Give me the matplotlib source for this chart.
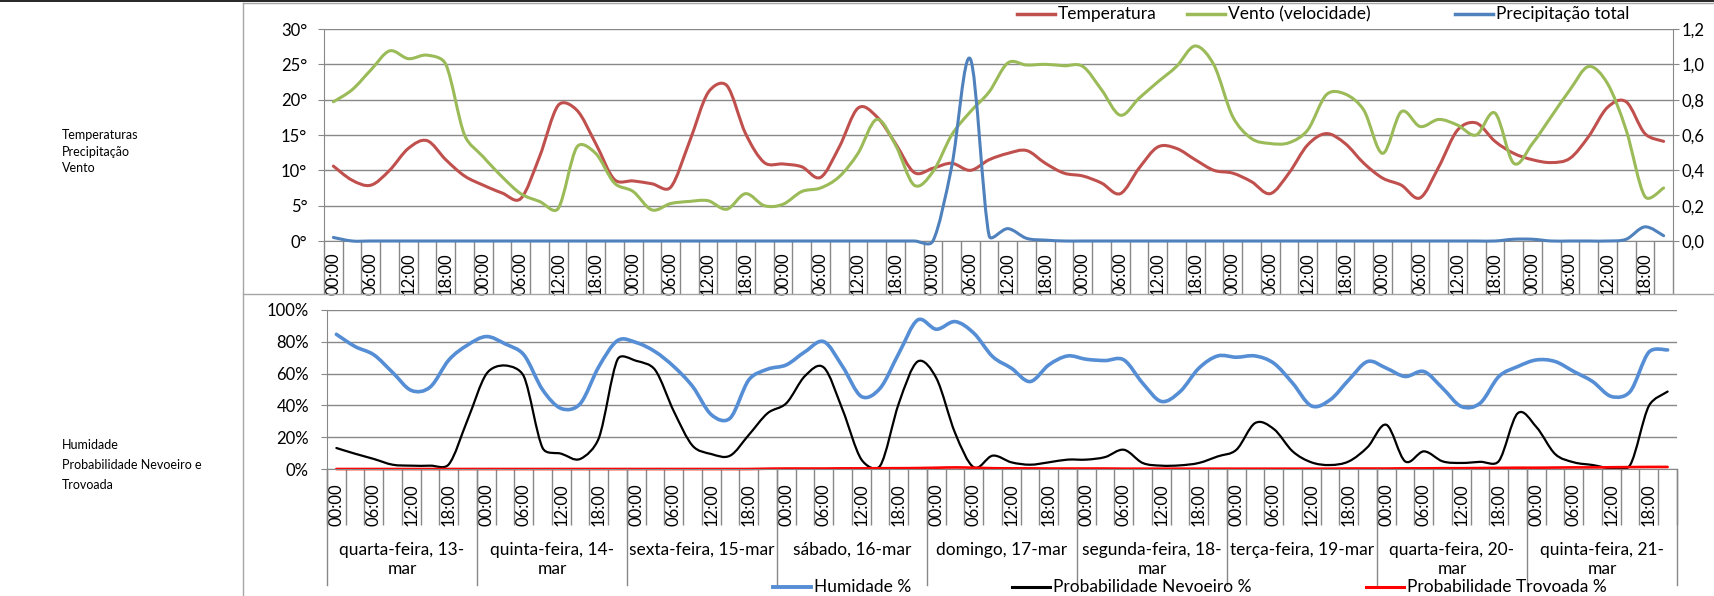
import numpy as np
import matplotlib
matplotlib.use('Agg')
import matplotlib.pyplot as plt
import matplotlib.transforms as mtransforms
from matplotlib.path import Path
from matplotlib.patches import PathPatch
from matplotlib.lines import Line2D

plt.rcParams['font.family'] = ['Lato', 'DejaVu Sans']

# dias e horas (intervalos de 3 horas)
dias = ["quarta-feira, 13-mar", "quinta-feira, 14-mar", "sexta-feira, 15-mar",
        "sábado, 16-mar", "domingo, 17-mar", "segunda-feira, 18-mar",
        "terça-feira, 19-mar", "quarta-feira, 20-mar", "quinta-feira, 21-mar"]
horas = ["00:00", "03:00", "06:00", "09:00", "12:00", "15:00", "18:00", "21:00"]

temperatura = [
    10.6, 8.6, 7.9, 10.0, 13.1, 14.2, 11.5, 9.2,
    7.9, 6.8, 6.0, 11.9, 19.2, 18.5, 13.8, 8.7,
    8.5, 8.1, 7.6, 14.0, 21.0, 22.0, 15.2, 11.1,
    10.9, 10.5, 9.0, 13.3, 18.8, 17.6, 13.8, 9.7,
    10.3, 11.0, 10.0, 11.5, 12.4, 12.8, 11.0, 9.6,
    9.2, 8.2, 6.7, 10.3, 13.3, 13.1, 11.5, 10.0,
    9.6, 8.4, 6.7, 9.6, 13.6, 15.2, 13.8, 11.0,
    8.9, 7.9, 6.1, 10.5, 15.7, 16.7, 14.1, 12.4,
    11.5, 11.1, 11.7, 14.8, 18.9, 19.7, 15.2, 14.1]

vento = [
    19.7, 21.4, 24.2, 26.9, 25.8, 26.3, 25.0, 15.0,
    11.9, 9.1, 6.7, 5.6, 4.6, 13.3, 12.4, 8.2,
    7.0, 4.4, 5.3, 5.6, 5.7, 4.5, 6.7, 5.0,
    5.2, 7.0, 7.5, 9.1, 12.4, 17.2, 13.6, 7.9,
    9.8, 15.0, 18.3, 21.1, 25.2, 24.9, 25.0, 24.8,
    24.7, 21.4, 17.8, 20.2, 22.5, 24.7, 27.6, 24.9,
    17.6, 14.5, 13.8, 13.9, 15.7, 20.7, 20.8, 18.5,
    12.4, 18.3, 16.2, 17.2, 16.4, 15.0, 18.1, 11.0,
    13.8, 17.6, 21.4, 24.7, 22.3, 15.7, 6.3, 7.5]

precipitacao = [
    0.02, 0, 0, 0, 0, 0, 0, 0,
    0, 0, 0, 0, 0, 0, 0, 0,
    0, 0, 0, 0, 0, 0, 0, 0,
    0, 0, 0, 0, 0, 0, 0, 0,
    0, 0.42, 1.03, 0.03, 0.07, 0.015, 0.005, 0,
    0, 0, 0, 0, 0, 0, 0, 0,
    0, 0, 0, 0, 0, 0, 0, 0,
    0, 0, 0, 0, 0, 0, 0, 0.01,
    0.01, 0, 0, 0, 0, 0.01, 0.08, 0.03]

humidade = [
    84.7, 77.0, 71.8, 60.7, 49.4, 51.5, 68.6, 78.0,
    83.3, 78.7, 71.8, 49.8, 38.0, 41.0, 64.4, 80.8,
    79.5, 73.8, 64.4, 51.9, 34.1, 32.0, 56.1, 62.8,
    65.5, 73.8, 80.1, 64.4, 45.6, 50.8, 72.8, 93.7,
    87.9, 92.7, 85.4, 70.7, 63.4, 55.0, 65.5, 71.1,
    69.0, 68.2, 68.6, 54.0, 42.5, 48.7, 63.4, 71.1,
    70.3, 71.1, 66.5, 54.0, 39.7, 43.5, 56.1, 67.6,
    63.4, 58.2, 61.3, 50.8, 39.3, 41.4, 58.2, 64.4,
    68.6, 67.6, 61.3, 55.0, 45.6, 48.7, 73.5, 74.9]

nevoeiro = [
    13.2, 9.6, 6.3, 2.7, 2.1, 2.1, 3.0, 31.0,
    59.8, 65.1, 58.2, 13.2, 9.6, 6.3, 19.5, 69.0,
    68.0, 62.3, 36.2, 14.6, 9.4, 8.4, 21.5, 35.1,
    41.4, 58.6, 63.8, 37.2, 6.0, 2.0, 41.4, 67.6,
    57.1, 22.6, 1.0, 8.4, 4.2, 2.7, 4.2, 5.9,
    5.9, 7.5, 12.1, 3.8, 2.1, 2.3, 3.8, 7.9,
    12.1, 28.9, 25.1, 11.1, 4.2, 2.5, 4.8, 13.8,
    27.8, 4.8, 11.1, 4.8, 3.8, 4.5, 5.0, 35.0,
    26.4, 9.4, 4.2, 2.5, 0.5, 2.5, 39.7, 48.7]

trovoada = [
    0, 0, 0, 0, 0, 0, 0, 0,
    0, 0, 0, 0, 0, 0, 0, 0,
    0, 0, 0, 0, 0, 0, 0, 0.2,
    0.3, 0.3, 0.3, 0.4, 0.4, 0.5, 0.5, 0.6,
    0.8, 1.0, 0.8, 0.5, 0.4, 0.4, 0.3, 0.3,
    0.3, 0.3, 0.2, 0.2, 0.2, 0.2, 0.2, 0.2,
    0.2, 0.2, 0.2, 0.2, 0.2, 0.2, 0.3, 0.3,
    0.3, 0.4, 0.4, 0.5, 0.5, 0.6, 0.7, 0.8,
    0.8, 0.9, 1.0, 1.0, 1.1, 1.2, 1.3, 1.3]

W, H = 1715, 596
CINZA = '#888888'


def fx(x):
    return x / W


def fy(y):
    return 1 - y / H


def curva(ax, valores, cor, lw):
    # linha suavizada (tipo Excel) com curvas de Bezier, calculada em pixels
    pos = ax.get_position()
    x0, x1 = ax.get_xlim()
    y0, y1 = ax.get_ylim()
    sx = pos.width * W / (x1 - x0)
    sy = pos.height * H / (y1 - y0)
    esc = np.array([sx, sy])
    m = len(valores)
    P = np.column_stack([np.arange(m), valores]).astype(float) * esc
    verts = [P[0]]
    codes = [Path.MOVETO]
    for i in range(m - 1):
        p1, p2 = P[i], P[i + 1]
        seg = np.linalg.norm(p2 - p1)
        t1 = P[i + 1] - P[max(i - 1, 0)]
        t2 = P[min(i + 2, m - 1)] - P[i]
        a1 = min(np.linalg.norm(t1) / 6, seg * 0.4)
        a2 = min(np.linalg.norm(t2) / 6, seg * 0.4)
        c1 = p1 + t1 / np.linalg.norm(t1) * a1
        c2 = p2 - t2 / np.linalg.norm(t2) * a2
        verts += [c1, c2, p2]
        codes += [Path.CURVE4] * 3
    verts = np.array(verts) / esc
    ax.add_patch(PathPatch(Path(verts, codes), facecolor='none', edgecolor=cor,
                           lw=lw, capstyle='round', joinstyle='round', clip_on=False))


def legenda(xs, y, textos, cores, lws):
    # legenda desenhada a mao (posicoes como no Excel)
    for x, t, c, w in zip(xs, textos, cores, lws):
        fig.add_artist(Line2D([fx(x), fx(x + 38)], [fy(y), fy(y)], color=c, lw=w))
        fig.text(fx(x + 41), fy(y), t, va='center', fontsize=12.5)


n = len(dias) * len(horas)
centros = np.arange(n)
limites = np.arange(n + 1) - 0.5
rotulos = [h if i % 2 == 0 else '' for d in dias for i, h in enumerate(horas)]

fig = plt.figure(figsize=(W / 100, H / 100), dpi=100)

# grafico de cima: temperatura, vento, precipitacao
ax1 = fig.add_axes([fx(324), fy(241), (1673 - 324) / W, (241 - 29) / H])
ax1r = ax1.twinx()
ax1.set_xlim(-0.5, n - 0.5)
ax1.set_ylim(0, 30)
ax1r.set_ylim(0, 1.2)
curva(ax1, temperatura, '#C0504D', 2.2)
curva(ax1, vento, '#9BBB59', 2.2)
curva(ax1r, precipitacao, '#4F81BD', 2.2)

ax1.set_yticks(range(0, 31, 5))
ax1.set_yticklabels([f"{v}°" for v in range(0, 31, 5)])
ax1r.set_yticks(np.arange(0, 1.21, 0.2))
ax1r.set_yticklabels([f"{v:.1f}".replace('.', ',') for v in np.arange(0, 1.21, 0.2)])
ax1.yaxis.grid(True, color=CINZA, lw=1)
ax1.set_axisbelow(True)
ax1.set_xticks(centros)
ax1.set_xticklabels(rotulos, rotation=90)
ax1.set_xticks(limites, minor=True)
ax1.tick_params(axis='x', which='major', length=0, pad=8.5, labelsize=12)
ax1.tick_params(axis='x', which='minor', length=38, color=CINZA, width=1)
ax1.tick_params(axis='y', length=4, color=CINZA, pad=8, labelsize=12)
ax1r.tick_params(axis='y', length=4, color=CINZA, pad=2, labelsize=12)
for s in ['top', 'right']:
    ax1.spines[s].set_visible(False)
for s in ['top', 'left', 'bottom']:
    ax1r.spines[s].set_visible(False)
for s in ['left', 'bottom']:
    ax1.spines[s].set_color(CINZA)
ax1r.spines['right'].set_color(CINZA)

legenda([1017, 1187, 1455], 14,
        ["Temperatura", "Vento (velocidade)", "Precipitação total"],
        ['#C0504D', '#9BBB59', '#4F81BD'], [2.5, 2.5, 2.5])

# grafico de baixo: humidade, nevoeiro, trovoada
ax2 = fig.add_axes([fx(327), fy(469), 1350 / W, (469 - 310) / H])
ax2.set_xlim(-0.5, n - 0.5)
ax2.set_ylim(0, 100)
curva(ax2, humidade, '#558ED5', 2.6)
curva(ax2, nevoeiro, '#000000', 1.6)
curva(ax2, trovoada, '#FF0000', 1.9)

ax2.set_yticks(range(0, 101, 20))
ax2.set_yticklabels([f"{v}%" for v in range(0, 101, 20)])
ax2.yaxis.grid(True, color=CINZA, lw=1)
ax2.set_axisbelow(True)
ax2.set_xticks(centros)
ax2.set_xticklabels(rotulos, rotation=90)
ax2.set_xticks(limites, minor=True)
ax2.tick_params(axis='x', which='major', length=0, pad=10, labelsize=12)
ax2.tick_params(axis='x', which='minor', length=40, color=CINZA, width=1)
ax2.tick_params(axis='y', length=4, color=CINZA, pad=9, labelsize=12)
for s in ['top', 'right']:
    ax2.spines[s].set_visible(False)
for s in ['left', 'bottom']:
    ax2.spines[s].set_color(CINZA)

# separadores e nomes dos dias
trans = mtransforms.blended_transform_factory(ax2.transData, fig.transFigure)
for d in range(len(dias) + 1):
    xb = d * len(horas) - 0.5
    fig.add_artist(Line2D([xb, xb], [fy(469), fy(585)], transform=trans, color=CINZA, lw=1))
for d, nome in enumerate(dias):
    if len(nome) > 19:
        corte = nome.rfind('-') + 1
        nome = nome[:corte] + '\n' + nome[corte:]
    xc = d * len(horas) + (len(horas) - 1) / 2
    fig.text(xc, fy(542), nome, transform=trans, ha='center', va='top', fontsize=12.5)

legenda([773, 1012, 1366], 587,
        ["Humidade %", "Probabilidade Nevoeiro %", "Probabilidade Trovoada %"],
        ['#558ED5', '#000000', '#FF0000'], [2.8, 2.2, 2.2])

# textos da coluna da esquerda
for i, t in enumerate(["Temperaturas", "Precipitação", "Vento"]):
    fig.text(fx(62), fy(135 + 16.5 * i), t, va='center', fontsize=9)
for i, t in enumerate(["Humidade", "Probabilidade Nevoeiro e", "Trovoada"]):
    fig.text(fx(62), fy(445 + 20 * i), t, va='center', fontsize=9)

# linhas da tabela / moldura
fig.add_artist(Line2D([0, 1], [fy(0.8), fy(0.8)], color='black', lw=1.2))
fig.add_artist(Line2D([fx(243), 1], [fy(3), fy(3)], color='#a6a6a6', lw=1))
fig.add_artist(Line2D([fx(243), fx(243)], [fy(3), 0], color='#a6a6a6', lw=1))
fig.add_artist(Line2D([fx(243), 1], [fy(294), fy(294)], color='#a6a6a6', lw=1))

fig.savefig('out.png', dpi=100)
